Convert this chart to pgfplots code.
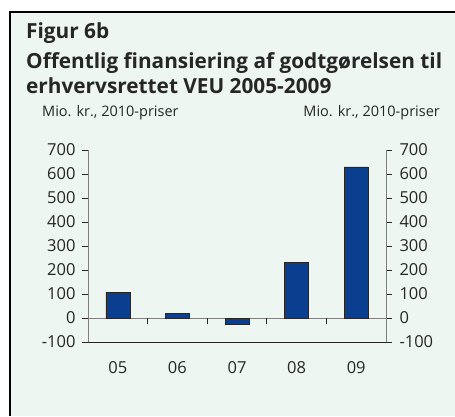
\documentclass[border=0pt]{standalone}
\usepackage{fontspec}
\setmainfont{Open Sans}
\usepackage{pgfplots}
\pgfplotsset{compat=1.18}
\definecolor{bg}{HTML}{EEF6F2}
\definecolor{barblue}{HTML}{0A3F8F}
\definecolor{axgray}{HTML}{7F7F7F}
\definecolor{txt}{HTML}{262626}

\begin{document}
\begin{tikzpicture}[x=1pt,y=1pt]
\path[use as bounding box] (0,0) rectangle (455,-416);
\fill[bg] (10,-12) rectangle (455,-416);
\draw[black, line width=1.2pt] (455,-12) -- (10,-12) -- (10,-416);
\node[anchor=base west, inner sep=0, text=txt, font=\bfseries\fontsize{20.8}{24}\selectfont] at (26,-38) {Figur 6b};
\node[anchor=base west, inner sep=0, text=txt, font=\bfseries\fontsize{20.8}{24}\selectfont] at (26,-68) {Offentlig finansiering af godtgørelsen til};
\node[anchor=base west, inner sep=0, text=txt, font=\bfseries\fontsize{20.8}{24}\selectfont] at (26,-93) {erhvervsrettet VEU 2005-2009};
\node[anchor=base west, inner sep=0, text=txt, font=\fontsize{14.5}{17}\selectfont] at (42,-116) {Mio. kr., 2010-priser};
\node[anchor=base east, inner sep=0, text=txt, font=\fontsize{14.5}{17}\selectfont] at (440,-116) {Mio. kr., 2010-priser};

\begin{axis}[
  at={(88pt,-342pt)}, anchor=south west, scale only axis, width=298pt, height=192pt,
  xmin=-0.5, xmax=4.5, ymin=-100, ymax=700,
  axis y line*=left, axis x line*=bottom,
  y axis line style={draw=axgray, line width=1pt},
  x axis line style={draw=txt, line width=0.9pt, -},
  xtick={0,1,2,3,4}, xticklabels={05,06,07,08,09},
  major x tick style={draw=none},
  xticklabel style={yshift=-10pt},
  ytick={-100,0,...,700},
  tick align=outside, major tick length=6pt,
  major y tick style={draw=txt, line width=0.8pt},
  tick label style={font=\fontsize{16.5}{19}\selectfont, text=txt},
  /pgf/number format/assume math mode=true,
  yticklabel style={xshift=-3pt},
  clip=false,
]
\draw[axgray, line width=1pt] (axis cs:-0.5,0) -- (axis cs:4.5,0);
\draw[txt, line width=0.8pt] (axis cs:0.5,0) -- ++(0pt,-6pt);
\draw[txt, line width=0.8pt] (axis cs:1.5,0) -- ++(0pt,-6pt);
\draw[txt, line width=0.8pt] (axis cs:2.5,0) -- ++(0pt,-6pt);
\draw[txt, line width=0.8pt] (axis cs:3.5,0) -- ++(0pt,-6pt);
\addplot[ybar, bar width=24pt, fill=barblue, draw=txt, line width=0.6pt] coordinates {
(0,108) (1,18) (2,-28) (3,231) (4,630)
};
\end{axis}

\begin{axis}[
  at={(88pt,-342pt)}, anchor=south west, scale only axis, width=298pt, height=192pt,
  xmin=-0.5, xmax=4.5, ymin=-100, ymax=700,
  axis y line*=right, hide x axis,
  y axis line style={draw=axgray, line width=1pt},
  ytick={-100,0,...,700},
  tick align=outside, major tick length=6pt,
  major y tick style={draw=txt, line width=0.8pt},
  tick label style={font=\fontsize{16.5}{19}\selectfont, text=txt},
  /pgf/number format/assume math mode=true,
  yticklabel style={xshift=4pt},
]
\addplot[draw=none] coordinates {(0,0)};
\end{axis}
\end{tikzpicture}
\end{document}
